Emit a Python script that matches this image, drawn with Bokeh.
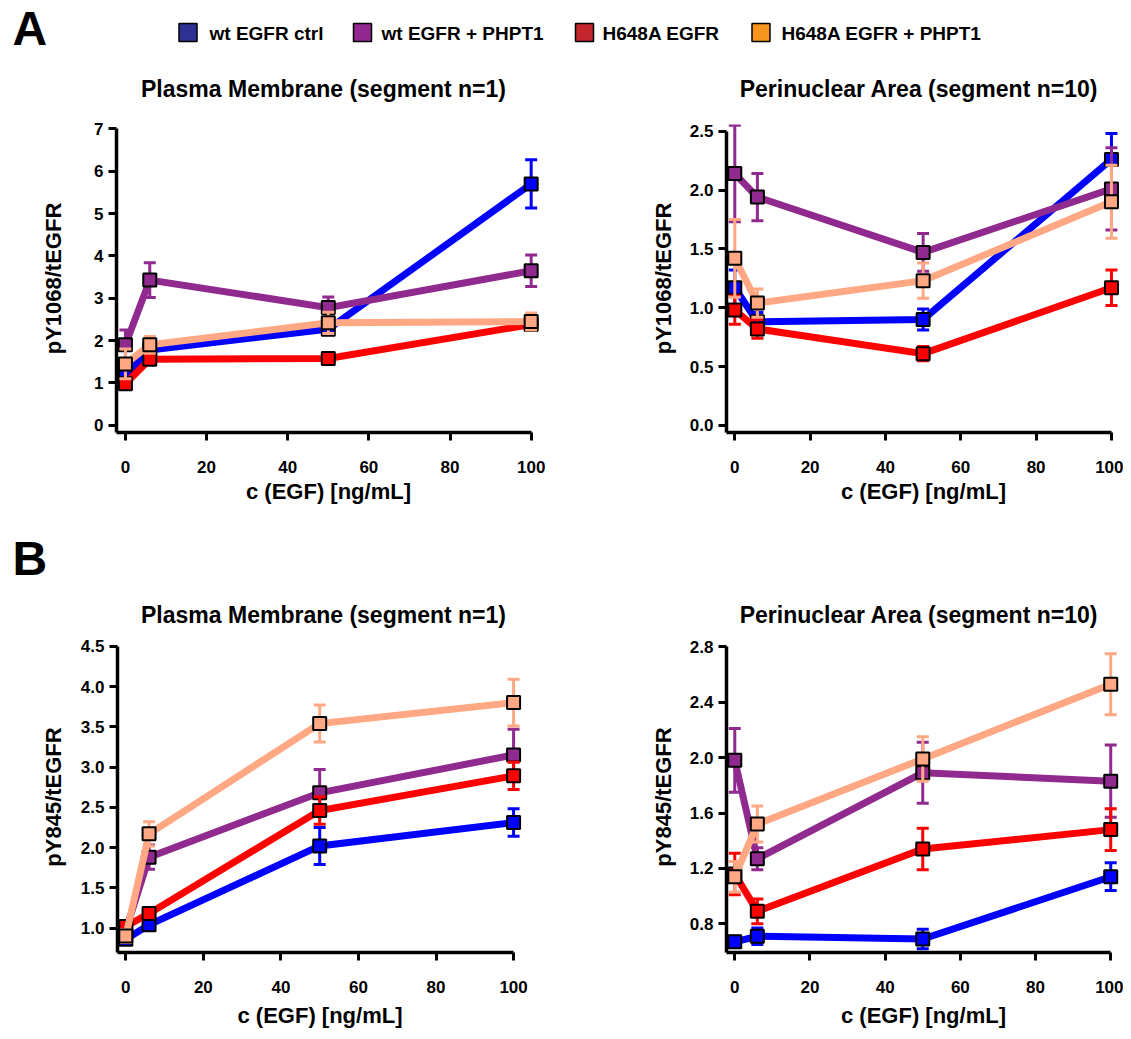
from bokeh.plotting import figure
from bokeh.layouts import column, row
from bokeh.models import Range1d, FixedTicker, PrintfTickFormatter
from bokeh.embed import file_html
from bokeh.resources import INLINE
from bokeh.core.properties import value

# ---------------- data ----------------
egf = [0, 6, 50, 100]
series_names = ["wt EGFR ctrl", "wt EGFR + PHPT1", "H648A EGFR", "H648A EGFR + PHPT1"]
line_colors = ["#0000FF", "#912A8E", "#FF0000", "#FFA883"]
legend_colors = ["#2E3192", "#92278F", "#C1272D", "#F7941D"]

# Panel A left: pY1068/tEGFR, Plasma Membrane
a_pm_wt = [1.20, 1.78, 2.27, 5.70]
a_pm_wt_err = [0.12, 0.10, 0.10, 0.57]
a_pm_wtp = [1.90, 3.43, 2.78, 3.65]
a_pm_wtp_err = [0.35, 0.41, 0.25, 0.37]
a_pm_h = [0.98, 1.56, 1.58, 2.38]
a_pm_h_err = [0.10, 0.10, 0.10, 0.12]
a_pm_hp = [1.45, 1.90, 2.42, 2.45]
a_pm_hp_err = [0.35, 0.20, 0.25, 0.20]

# Panel A right: pY1068/tEGFR, Perinuclear Area
a_pn_wt = [1.17, 0.88, 0.90, 2.26]
a_pn_wt_err = [0.15, 0.08, 0.09, 0.22]
a_pn_wtp = [2.14, 1.94, 1.47, 2.01]
a_pn_wtp_err = [0.41, 0.20, 0.16, 0.35]
a_pn_h = [0.98, 0.82, 0.61, 1.17]
a_pn_h_err = [0.12, 0.08, 0.06, 0.15]
a_pn_hp = [1.42, 1.04, 1.23, 1.90]
a_pn_hp_err = [0.33, 0.12, 0.15, 0.31]

# Panel B left: pY845/tEGFR, Plasma Membrane
b_pm_wt = [0.86, 1.04, 2.02, 2.31]
b_pm_wt_err = [0.05, 0.05, 0.23, 0.17]
b_pm_wtp = [0.97, 1.88, 2.68, 3.15]
b_pm_wtp_err = [0.10, 0.15, 0.29, 0.32]
b_pm_h = [1.02, 1.18, 2.46, 2.89]
b_pm_h_err = [0.06, 0.06, 0.17, 0.17]
b_pm_hp = [0.90, 2.17, 3.54, 3.80]
b_pm_hp_err = [0.08, 0.15, 0.23, 0.29]

# Panel B right: pY845/tEGFR, Perinuclear Area
b_pn_wt = [0.67, 0.71, 0.69, 1.14]
b_pn_wt_err = [0.04, 0.06, 0.07, 0.10]
b_pn_wtp = [1.98, 1.27, 1.89, 1.83]
b_pn_wtp_err = [0.23, 0.08, 0.22, 0.26]
b_pn_h = [1.16, 0.89, 1.34, 1.48]
b_pn_h_err = [0.15, 0.09, 0.15, 0.15]
b_pn_hp = [1.14, 1.52, 1.99, 2.53]
b_pn_hp_err = [0.11, 0.13, 0.16, 0.22]

x_ticks = [0, 20, 40, 60, 80, 100]
a_pm_yticks = [0, 1, 2, 3, 4, 5, 6, 7]
a_pn_yticks = [0.0, 0.5, 1.0, 1.5, 2.0, 2.5]
b_pm_yticks = [1.0, 1.5, 2.0, 2.5, 3.0, 3.5, 4.0, 4.5]
b_pn_yticks = [0.8, 1.2, 1.6, 2.0, 2.4, 2.8]

panel_titles = ["Plasma Membrane (segment n=1)", "Perinuclear Area (segment n=10)"]
x_label = "c (EGF) [ng/mL]"
y_label_a = "pY1068/tEGFR"
y_label_b = "pY845/tEGFR"

FONT = "Liberation Sans"


def panel(ylab, ys, errs, yticks, yfmt, w, h, xr, yr, borders, ylab_standoff,
          xlab_standoff):
    bl, br, bt, bb = borders
    p = figure(width=w, height=h, x_range=Range1d(*xr), y_range=Range1d(*yr),
               toolbar_location=None, output_backend="svg",
               min_border_left=bl, min_border_right=br,
               min_border_top=bt, min_border_bottom=bb)
    p.outline_line_color = None
    p.grid.visible = False
    p.background_fill_color = "white"
    p.border_fill_color = "white"

    for ax in (p.xaxis[0], p.yaxis[0]):
        ax.axis_line_width = 3.5
        ax.axis_line_color = "black"
        ax.major_tick_line_width = 3
        ax.major_tick_line_color = "black"
        ax.major_tick_out = 8
        ax.major_tick_in = 0
        ax.minor_tick_line_color = None
        ax.major_label_text_font = FONT
        ax.major_label_text_font_size = "17px"
        ax.major_label_text_font_style = "bold"
        ax.major_label_text_color = "black"
        ax.axis_label_text_font = FONT
        ax.axis_label_text_font_size = "22px"
        ax.axis_label_text_font_style = "bold"
        ax.axis_label_text_color = "black"

    xa = p.xaxis[0]
    xa.ticker = FixedTicker(ticks=x_ticks)
    xa.bounds = (xr[0], 100)
    xa.axis_label = x_label
    xa.major_label_standoff = 20
    xa.axis_label_standoff = xlab_standoff

    ya = p.yaxis[0]
    ya.ticker = FixedTicker(ticks=yticks)
    ya.formatter = PrintfTickFormatter(format=yfmt)
    ya.bounds = (yr[0], yticks[-1])
    ya.axis_label = ylab
    ya.major_label_standoff = 5
    ya.axis_label_standoff = ylab_standoff

    for yv, ev, col in zip(ys, errs, line_colors):
        lo = [a - b for a, b in zip(yv, ev)]
        hi = [a + b for a, b in zip(yv, ev)]
        p.line(egf, yv, line_color=col, line_width=7, line_join="miter")
        p.segment(x0=egf, y0=lo, x1=egf, y1=hi, line_color=col, line_width=3)
        p.scatter(egf + egf, lo + hi, marker="dash", size=12, line_color=col,
                  line_width=3)
        p.scatter(egf, yv, marker="square", size=13, fill_color=col,
                  line_color="black", line_width=2)
    return p


# A row: page y 108..530 ; B row: page y 630..1038
pA1 = panel(y_label_a,
            [a_pm_wt, a_pm_wtp, a_pm_h, a_pm_hp],
            [a_pm_wt_err, a_pm_wtp_err, a_pm_h_err, a_pm_hp_err],
            a_pm_yticks, "%d", 608, 422, (-2.2, 102.3), (-0.17, 7.105),
            (116, 68, 12, 92), 25, 3)
pA2 = panel(y_label_a,
            [a_pn_wt, a_pn_wtp, a_pn_h, a_pn_hp],
            [a_pn_wt_err, a_pn_wtp_err, a_pn_h_err, a_pn_hp_err],
            a_pn_yticks, "%.1f", 515, 422, (-2.2, 102.4), (-0.06, 2.557),
            (118, 3, 16, 98), 11, 3)
pB1 = panel(y_label_b,
            [b_pm_wt, b_pm_wtp, b_pm_h, b_pm_hp],
            [b_pm_wt_err, b_pm_wtp_err, b_pm_h_err, b_pm_hp_err],
            b_pm_yticks, "%.1f", 608, 408, (-2.14, 102.3), (0.696, 4.559),
            (117, 86, 8, 79), 12, 7)
pB2 = panel(y_label_b,
            [b_pn_wt, b_pn_wtp, b_pn_h, b_pn_hp],
            [b_pn_wt_err, b_pn_wtp_err, b_pn_h_err, b_pn_hp_err],
            b_pn_yticks, "%.1f", 515, 408, (-2.2, 102.6), (0.593, 2.838),
            (118, 3, 11, 86), 11, 7)


def header(h, letter, letter_y, title_y, with_legend):
    p = figure(width=1123, height=h, x_range=Range1d(0, 1123), y_range=Range1d(h, 0),
               toolbar_location=None, output_backend="svg", min_border=0,
               x_axis_type=None, y_axis_type=None)
    p.outline_line_color = None
    p.grid.visible = False
    p.text(x=[12], y=[letter_y], text=[letter], text_font=value(FONT),
           text_font_style="bold", text_font_size="48px",
           text_baseline="middle", text_align="left", text_color="black")
    if with_legend:
        sw_x = [187.5, 362, 584, 760.5]
        tx_x = [209, 381, 602, 781]
        p.rect(x=sw_x, y=[32] * 4, width=18, height=18, fill_color=legend_colors,
               line_color="black", line_width=1.5)
        p.text(x=tx_x, y=[33] * 4, text=series_names, text_font=value(FONT),
               text_font_style="bold", text_font_size="19px",
               text_baseline="middle", text_align="left", text_color="black")
    p.text(x=[323, 918.5], y=[title_y] * 2, text=panel_titles, text_font=value(FONT),
           text_font_style="bold", text_font_size="23px",
           text_baseline="middle", text_align="center", text_color="black")
    return p


hA = header(108, "A", 28, 88, True)
hB = header(100, "B", 28, 84, False)

layout = column(hA, row(pA1, pA2), hB, row(pB1, pB2))

open("out.html", "w").write(file_html(layout, INLINE))
